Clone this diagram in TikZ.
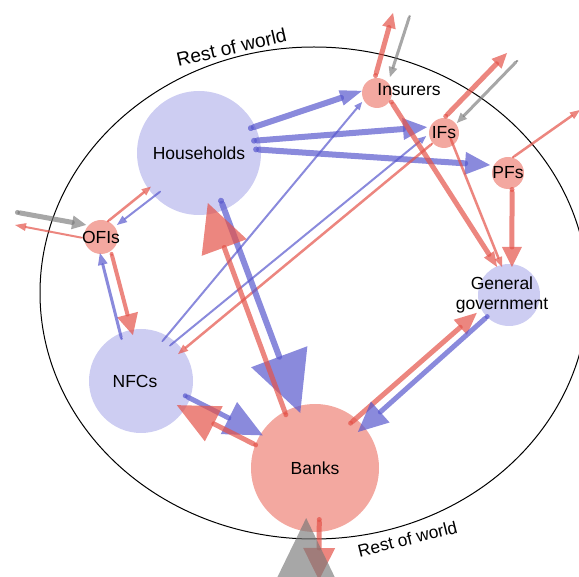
\documentclass[tikz,border=0pt]{standalone}
\usepackage{fontspec}
\setmainfont{Liberation Sans}
\usetikzlibrary{arrows.meta,calc}

\definecolor{hhblue}{RGB}{205,205,242}
\definecolor{finred}{RGB}{243,168,160}
\definecolor{flowblue}{RGB}{88,88,205}
\definecolor{flowred}{RGB}{228,82,72}
\definecolor{flowgray}{RGB}{120,120,120}

\tikzset{
  sector/.style={circle, inner sep=0pt, fill=#1},
  sectorname/.style={inner sep=0pt, align=center, font=\fontsize{8.75}{10}\selectfont},
  rowname/.style={inner sep=0pt, anchor=base},
  bflow/.style={draw=flowblue, opacity=.7, line cap=round},
  rflow/.style={draw=flowred, opacity=.7, line cap=round},
  gflow/.style={draw=flowgray, opacity=.65, line cap=round},
  ahead/.style 2 args={{Circle[length=0pt 1,line width=0pt]}-{Triangle[length=#1,width=#2,line width=0pt]}},
}

\begin{document}
\begin{tikzpicture}[x=0.5pt, y=-0.5pt]
  \useasboundingbox (0,0) rectangle (579,577);
  \clip (0,0) rectangle (579,577);

  \draw[line width=0.5pt] (314,293) ellipse [x radius=274, y radius=246];

  % sectors
  \node[sector=hhblue, minimum size=62pt] (hh) at (199,153) {};
  \node[sector=finred, minimum size=17pt] (ofi) at (101,237) {};
  \node[sector=finred, minimum size=15pt] (ins) at (377,93) {};
  \node[sector=finred, minimum size=15pt] (ifs) at (444,133) {};
  \node[sector=finred, minimum size=16pt] (pfs) at (508,173) {};
  \node[sector=hhblue, minimum size=31pt] (gg) at (509,295) {};
  \node[sector=hhblue, minimum size=52pt] (nfc) at (141,381) {};
  \node[sector=finred, minimum size=64pt] (banks) at (315,468) {};

  % rest of world ends
  \coordinate (rowA) at (15,212);
  \coordinate (rowB) at (15,225);
  \coordinate (rowC) at (393,13);
  \coordinate (rowD) at (410,15);
  \coordinate (rowE) at (507,53);
  \coordinate (rowF) at (518,60);
  \coordinate (rowG) at (580,110);
  \coordinate (rowH) at (319,580);
  \coordinate (rowI) at (306,650);

  % flows
  \draw[gflow, line width=2.5pt, ahead={7pt}{7pt}] (rowA) -- ($(ofi)+(141:9.6pt)$);
  \draw[rflow, line width=1pt, ahead={5.5pt}{4pt}] ($(ofi)+(183:9pt)$) -- (rowB);
  \draw[rflow, line width=1.25pt, ahead={4.5pt}{4pt}] ($(ofi)+(68:8.1pt)$) -- ($(hh)+(215:29.4pt)$);
  \draw[bflow, line width=1pt, ahead={5pt}{4pt}] ($(hh)+(225:26.9pt)$) -- ($(ofi)+(37:10pt)$);
  \draw[rflow, line width=2pt, ahead={10.6pt}{10.8pt}] ($(ofi)+(-56:9pt)$) -- ($(nfc)+(100:23.3pt)$);
  \draw[bflow, line width=1.5pt, ahead={6pt}{5pt}] ($(nfc)+(115:22.6pt)$) -- ($(ofi)+(266:8pt)$);
  \draw[bflow, line width=3pt, ahead={11pt}{8pt}] ($(hh)+(26:27.3pt)$) -- ($(ins)+(172:7.6pt)$);
  \draw[bflow, line width=1pt, ahead={4pt}{3.5pt}] ($(nfc)+(62:22.1pt)$) -- ($(ins)+(211:8.7pt)$);
  \draw[bflow, line width=3pt, ahead={12pt}{11pt}] ($(hh)+(13:26.7pt)$) -- ($(ifs)+(161:9pt)$);
  \draw[bflow, line width=3pt, ahead={12.5pt}{11.5pt}] ($(hh)+(4:27.1pt)$) -- ($(pfs)+(156:9.8pt)$);
  \draw[bflow, line width=1pt, ahead={4pt}{3.5pt}] ($(nfc)+(51:22.4pt)$) -- ($(ifs)+(190:9.1pt)$);
  \draw[rflow, line width=1.25pt, ahead={5pt}{4pt}] ($(ifs)+(222:7.4pt)$) -- ($(nfc)+(36:22.9pt)$);
  \draw[rflow, line width=2.5pt, ahead={7.5pt}{7pt}] ($(ins)+(98:7.6pt)$) -- (rowC);
  \draw[gflow, line width=1.5pt, ahead={5pt}{4.5pt}] (rowD) -- ($(ins)+(51:10.3pt)$);
  \draw[rflow, line width=2.5pt, ahead={7.5pt}{7pt}] ($(ifs)+(90:7.5pt)$) -- (rowE);
  \draw[gflow, line width=1.5pt, ahead={5pt}{4.5pt}] (rowF) -- ($(ifs)+(38:8.2pt)$);
  \draw[rflow, line width=1.25pt, ahead={5pt}{4pt}] ($(pfs)+(75:7.8pt)$) -- (rowG);
  \draw[rflow, line width=2.5pt, ahead={7.5pt}{6pt}] ($(ins)+(-28:7.4pt)$) -- ($(gg)+(113:15.2pt)$);
  \draw[rflow, line width=1.25pt, ahead={5pt}{4pt}] ($(ifs)+(-34:3.6pt)$) -- ($(gg)+(104:14.4pt)$);
  \draw[rflow, line width=2.5pt, ahead={10pt}{10pt}] ($(pfs)+(-74:7.3pt)$) -- ($(gg)+(84:14.1pt)$);
  \draw[rflow, line width=2.5pt, ahead={11pt}{10pt}] ($(banks)+(52:27.4pt)$) -- ($(gg)+(209:18.4pt)$);
  \draw[bflow, line width=2.5pt, ahead={15pt}{14pt}] ($(gg)+(225:14.1pt)$) -- ($(banks)+(40:28pt)$);
  \draw[bflow, line width=3pt, ahead={30pt}{30pt}] ($(hh)+(-65:24.8pt)$) -- ($(banks)+(105:28.5pt)$);
  \draw[rflow, line width=2.5pt, ahead={23.7pt}{24pt}] ($(banks)+(119:29.1pt)$) -- ($(hh)+(-80:25.4pt)$);
  \draw[bflow, line width=2.5pt, ahead={19pt}{18pt}] ($(nfc)+(-18:22.1pt)$) -- ($(banks)+(148:30.8pt)$);
  \draw[rflow, line width=2.5pt, ahead={20.7pt}{19.7pt}] ($(banks)+(159:30.6pt)$) -- ($(nfc)+(-34:21.6pt)$);
  \draw[rflow, line width=2.5pt, ahead={16pt}{16pt}] ($(banks)+(-85:24.6pt)$) -- (rowH);
  \draw[gflow, line width=2.5pt, ahead={34pt}{33pt}] (rowI) -- ($(banks)+(-100:25.4pt)$);

  % names
  \node[sectorname] (hhName) at (hh) {Households};
  \node[sectorname] (ofiName) at (ofi) {OFIs};
  \node[sectorname, anchor=west, yshift=1.5pt] (insName) at (ins) {Insurers};
  \node[sectorname] (ifsName) at (ifs) {IFs};
  \node[sectorname] (pfsName) at (pfs) {PFs};
  \node[sectorname, xshift=-3.5pt] (ggName) at (gg) {General\\government};
  \node[sectorname, xshift=-3pt] (nfcName) at (nfc) {NFCs};
  \node[sectorname] (banksName) at (banks) {Banks};
  \node[rowname, rotate=13, font=\fontsize{9.6}{11}\selectfont] (rowTop) at (233,54) {Rest of world};
  \node[rowname, rotate=14, font=\fontsize{8.7}{10}\selectfont] (rowBottom) at (409,545) {Rest of world};
\end{tikzpicture}
\end{document}
